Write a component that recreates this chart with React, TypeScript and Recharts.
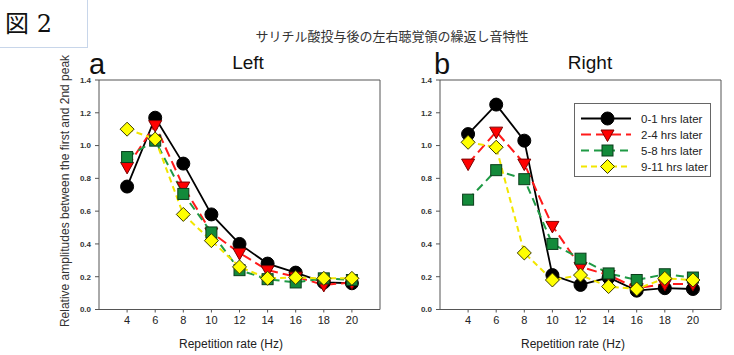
import React from 'react';
import { Line, LineChart, ReferenceLine, XAxis, YAxis } from 'recharts';

// repetition rates (Hz) and y tick values
const rates = [4, 6, 8, 10, 12, 14, 16, 18, 20];
const yTicks = [0, 0.2, 0.4, 0.6, 0.8, 1.0, 1.2, 1.4];

// left auditory cortex
const leftH01 = [0.75, 1.17, 0.89, 0.58, 0.4, 0.28, 0.225, 0.165, 0.16];
const leftH24 = [0.87, 1.125, 0.75, 0.47, 0.345, 0.24, 0.2, 0.15, 0.165];
const leftH58 = [0.93, 1.03, 0.705, 0.47, 0.24, 0.185, 0.165, 0.19, 0.18];
const leftH911 = [1.1, 1.04, 0.58, 0.42, 0.26, 0.19, 0.195, 0.19, 0.19];

// right auditory cortex
const rightH01 = [1.07, 1.25, 1.03, 0.21, 0.15, 0.195, 0.115, 0.13, 0.125];
const rightH24 = [0.89, 1.085, 0.89, 0.51, 0.26, 0.21, 0.13, 0.155, 0.155];
const rightH58 = [0.67, 0.85, 0.795, 0.4, 0.31, 0.22, 0.18, 0.215, 0.195];
const rightH911 = [1.02, 0.99, 0.345, 0.18, 0.21, 0.14, 0.125, 0.19, 0.18];

const seriesNames = ['0-1 hrs later', '2-4 hrs later', '5-8 hrs later', '9-11 hrs later'];

const leftData = rates.map((r, i) => ({ rate: r, h01: leftH01[i], h24: leftH24[i], h58: leftH58[i], h911: leftH911[i] }));
const rightData = rates.map((r, i) => ({ rate: r, h01: rightH01[i], h24: rightH24[i], h58: rightH58[i], h911: rightH911[i] }));

const AXIS = '#555';
const FONT = '"Liberation Sans", Arial, sans-serif';

type Kind = 'circle' | 'triangle' | 'square' | 'diamond';

const styles: Record<Kind, { key: string; stroke: string; dash?: string; fill: string; edge: string }> = {
  circle: { key: 'h01', stroke: '#000000', fill: '#000000', edge: '#000000' },
  triangle: { key: 'h24', stroke: '#ff1a1a', dash: '10 5', fill: '#ff0000', edge: '#7a0000' },
  square: { key: 'h58', stroke: '#1f9a45', dash: '8 5', fill: '#138a3a', edge: '#0a3d1a' },
  diamond: { key: 'h911', stroke: '#f2e600', dash: '6 4', fill: '#ffff00', edge: '#3a3a00' },
};

function Marker({ kind, cx, cy }: { kind: Kind; cx: number; cy: number }) {
  const s = styles[kind];
  if (kind === 'circle') return <circle cx={cx} cy={cy} r={6.5} fill={s.fill} stroke={s.edge} />;
  if (kind === 'triangle')
    return <polygon points={`${cx - 6.5},${cy - 4.5} ${cx + 6.5},${cy - 4.5} ${cx},${cy + 7}`} fill={s.fill} stroke={s.edge} />;
  if (kind === 'square') return <rect x={cx - 5.5} y={cy - 5.5} width={11} height={11} fill={s.fill} stroke={s.edge} />;
  return <polygon points={`${cx},${cy - 7} ${cx + 7},${cy} ${cx},${cy + 7} ${cx - 7},${cy}`} fill={s.fill} stroke={s.edge} />;
}

const dotFor = (kind: Kind) => (p: any) => <Marker key={`${kind}-${p.index}`} kind={kind} cx={p.cx} cy={p.cy} />;

const kinds: Kind[] = ['circle', 'triangle', 'square', 'diamond'];

function Panel({ data, width, yAxisWidth, right }: { data: any[]; width: number; yAxisWidth: number; right: number }) {
  return (
    <LineChart width={width} height={355} data={data} margin={{ top: 80, right, left: 0, bottom: 0 }}>
      <XAxis
        dataKey="rate"
        type="number"
        domain={[2, 22]}
        ticks={rates}
        height={45.5}
        tickSize={3}
        tickMargin={4}
        stroke={AXIS}
        tick={{ fontSize: 11, fill: '#222', fontFamily: FONT }}
      />
      <YAxis
        type="number"
        domain={[0, 1.4]}
        ticks={yTicks}
        width={yAxisWidth}
        tickSize={4}
        tickMargin={4}
        stroke={AXIS}
        tickFormatter={(v: number) => v.toFixed(1)}
        tick={{ fontSize: 8, fill: '#333', fontFamily: FONT, fontWeight: 'bold' }}
      />
      <ReferenceLine y={1.4} stroke={AXIS} />
      <ReferenceLine x={22} stroke={AXIS} />
      {kinds.map((k) => (
        <Line
          key={k}
          type="linear"
          dataKey={styles[k].key}
          stroke={styles[k].stroke}
          strokeWidth={k === 'circle' ? 1.8 : 2}
          strokeDasharray={styles[k].dash}
          dot={dotFor(k)}
          activeDot={false}
          isAnimationActive={false}
        />
      ))}
    </LineChart>
  );
}

const abs = (left: number, top: number, extra: React.CSSProperties = {}): React.CSSProperties => ({
  position: 'absolute',
  left,
  top,
  fontFamily: FONT,
  color: '#222',
  whiteSpace: 'nowrap',
  lineHeight: 1,
  ...extra,
});

export default function App() {
  return (
    <div style={{ position: 'absolute', left: 0, top: 0, width: 734, height: 355, background: '#fff', overflow: 'hidden' }}>
      <div style={abs(0, 0)}>
        <LineChartWrap />
      </div>
    </div>
  );
}

function LineChartWrap() {
  return (
    <div style={{ position: 'relative', width: 734, height: 355 }}>
      <div style={{ position: 'absolute', left: 0, top: 0 }}>
        <Panel data={leftData} width={390} yAxisWidth={99} right={10} />
      </div>
      <div style={{ position: 'absolute', left: 380, top: 0 }}>
        <Panel data={rightData} width={354} yAxisWidth={60} right={13} />
      </div>

      {/* figure tag */}
      <div style={{ position: 'absolute', left: -2, top: -2, width: 88, height: 48, border: '1px solid #c8d6ea' }} />
      <div style={abs(5, 12, { fontSize: 24, fontFamily: '"DejaVu Serif", "Noto Sans CJK JP", serif', color: '#111' })}>図 2</div>

      <div style={abs(392, 29, { fontSize: 13, fontFamily: '"Noto Sans CJK JP", sans-serif', transform: 'translateX(-50%)', color: '#333' })}>
        サリチル酸投与後の左右聴覚領の繰返し音特性
      </div>

      <div style={abs(89, 50, { fontSize: 29, color: '#111' })}>a</div>
      <div style={abs(434, 50, { fontSize: 29, color: '#111' })}>b</div>
      <div style={abs(248, 53, { fontSize: 19, transform: 'translateX(-50%)', color: '#111' })}>Left</div>
      <div style={abs(590, 53, { fontSize: 19, transform: 'translateX(-50%)', color: '#111' })}>Right</div>

      <div
        style={abs(65, 191, {
          fontSize: 12,
          color: '#333',
          transform: 'translate(-50%, -50%) rotate(-90deg)',
        })}
      >
        Relative amplitudes between the first and 2nd peak
      </div>

      <div style={abs(231, 338, { fontSize: 12, transform: 'translateX(-50%)', color: '#222' })}>Repetition rate (Hz)</div>
      <div style={abs(573, 338, { fontSize: 12, transform: 'translateX(-50%)', color: '#222' })}>Repetition rate (Hz)</div>

      {/* legend */}
      <div style={{ position: 'absolute', left: 574, top: 103, width: 135, height: 72, border: '1.5px solid #666', background: '#fff' }}>
        <svg width={135} height={72} style={{ position: 'absolute', left: 0, top: 0 }}>
          {kinds.map((k, i) => {
            const y = 14.5 + i * 16;
            return (
              <g key={k}>
                <line x1={6} x2={56} y1={y} y2={y} stroke={styles[k].stroke} strokeWidth={2} strokeDasharray={styles[k].dash} />
                <Marker kind={k} cx={32.5} cy={y} />
                <text x={66} y={y + 4} fontSize={11.5} fill="#222" fontFamily={FONT}>
                  {seriesNames[i]}
                </text>
              </g>
            );
          })}
        </svg>
      </div>
    </div>
  );
}
